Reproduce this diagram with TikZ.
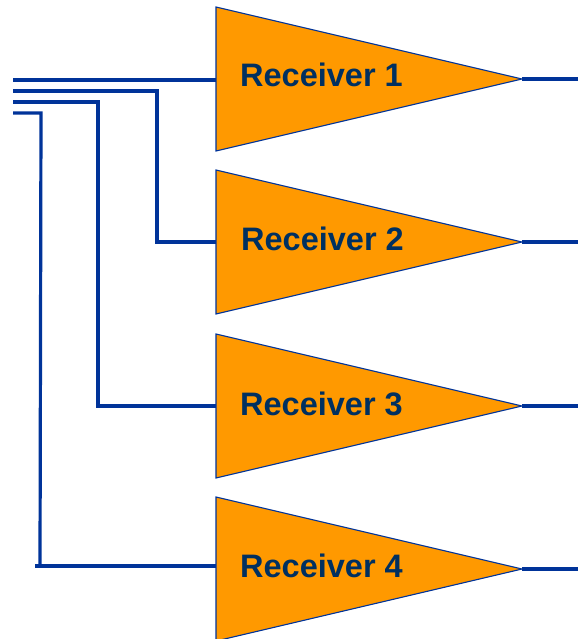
\documentclass[tikz,border=0pt]{standalone}
\usepackage{fontspec}
\setmainfont{Liberation Sans}
\begin{document}
\begin{tikzpicture}[x=1pt,y=-1pt,
  tri/.style={fill=orangefill,draw=wireblue,line width=1.1pt,line join=miter},
  wire/.style={draw=wireblue,line width=3.2pt},
  lbl/.style={anchor=base west,inner sep=0pt,text=textnavy,font=\fontsize{32.5}{38}\selectfont\bfseries}]
\definecolor{orangefill}{RGB}{255,153,0}
\definecolor{wireblue}{RGB}{0,51,153}
\definecolor{textnavy}{RGB}{0,48,96}
\useasboundingbox (0,0) rectangle (580,639);
% triangles
\coordinate (t1a) at (216,7);   \coordinate (t1b) at (216,151); \coordinate (t1p) at (522,79);
\coordinate (t2a) at (216,170); \coordinate (t2b) at (216,314); \coordinate (t2p) at (522,242);
\coordinate (t3a) at (216,334); \coordinate (t3b) at (216,478); \coordinate (t3p) at (522,406);
\coordinate (t4a) at (216,497); \coordinate (t4b) at (216,641); \coordinate (t4p) at (522,569);
% outputs
\coordinate (o1) at (578,79);
\coordinate (o2) at (578,242);
\coordinate (o3) at (578,406);
\coordinate (o4) at (578,569);
\draw[wire] (t1p) -- (o1);
\draw[wire] (t2p) -- (o2);
\draw[wire] (t3p) -- (o3);
\draw[wire] (t4p) -- (o4);
% inputs
\coordinate (i1) at (13,80);
\coordinate (i2) at (13,91);
\coordinate (i3) at (13,102);
\coordinate (i4) at (13,113);
\coordinate (e1) at (217,80);
\coordinate (e2) at (217,242);
\coordinate (e3) at (217,406);
\coordinate (e4) at (217,566);
\coordinate (c4) at (40,566);
\coordinate (s4) at (35,566);
\draw[wire] (i1) -- (e1);
\draw[wire] (i2) -- (157,91) -- (157,242) -- (e2);
\draw[wire] (i3) -- (98,102) -- (98,406) -- (e3);
\draw[wire] (i4) -- (41,113) -- (c4);
\draw[wire] (s4) -- (e4);
\draw[tri] (t1a) -- (t1p) -- (t1b) -- cycle;
\draw[tri] (t2a) -- (t2p) -- (t2b) -- cycle;
\draw[tri] (t3a) -- (t3p) -- (t3b) -- cycle;
\draw[tri] (t4a) -- (t4p) -- (t4b) -- cycle;
\node[lbl] (r1) at (240,86.5) {Receiver 1};
\node[lbl] (r2) at (241,250.7) {Receiver 2};
\node[lbl] (r3) at (240,415) {Receiver 3};
\node[lbl] (r4) at (240,577) {Receiver 4};
\end{tikzpicture}
\end{document}
